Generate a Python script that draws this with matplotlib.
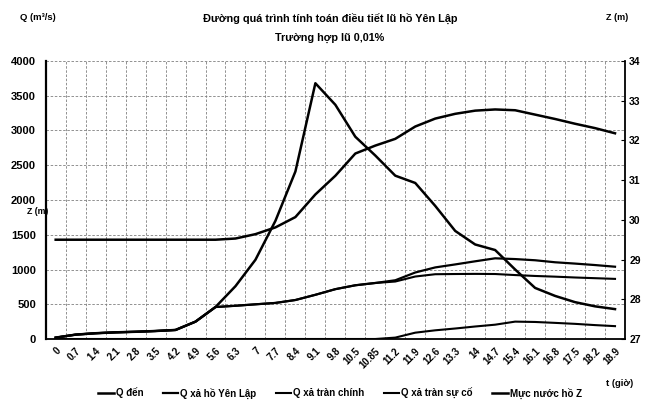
import numpy as np
import matplotlib
matplotlib.use("Agg")
import matplotlib.pyplot as plt

plt.rcParams['font.family'] = ['Liberation Sans', 'DejaVu Sans']
plt.rcParams['font.weight'] = 'bold'

# thoi gian (gio)
t_labels = ["0", "0.7", "1.4", "2.1", "2.8", "3.5", "4.2", "4.9", "5.6", "6.3",
            "7", "7.7", "8.4", "9.1", "9.8", "10.5", "10.85", "11.2", "11.9",
            "12.6", "13.3", "14", "14.7", "15.4", "16.1", "16.8", "17.5",
            "18.2", "18.9"]

# luu luong (m3/s)
q_den = [20, 63, 83, 96, 104, 115, 130, 250, 460, 760, 1140, 1700, 2410,
         3680, 3370, 2910, 2640, 2350, 2245, 1915, 1555, 1360, 1280, 1000,
         735, 620, 530, 470, 430]
q_xa_ho = [20, 63, 83, 96, 104, 115, 130, 250, 460, 478, 499, 519, 561,
           636, 717, 773, 806, 845, 957, 1030, 1073, 1118, 1161, 1150,
           1133, 1104, 1085, 1064, 1040]
q_tran_chinh = [20, 63, 83, 96, 104, 115, 130, 250, 460, 478, 499, 519, 561,
                636, 717, 773, 806, 827, 899, 932, 935, 937, 935, 920,
                907, 897, 885, 875, 865]
q_tran_su_co = [0, 0, 0, 0, 0, 0, 0, 0, 0, 0, 0, 0, 0, 0, 0, 0, 0,
                20, 91, 125, 151, 180, 206, 250, 245, 232, 218, 200, 185]

# muc nuoc ho (m)
z_ho = [29.5, 29.5, 29.5, 29.5, 29.5, 29.5, 29.5, 29.5, 29.5, 29.53, 29.64,
        29.81, 30.07, 30.64, 31.11, 31.67, 31.87, 32.04, 32.35, 32.55,
        32.67, 32.75, 32.78, 32.76, 32.65, 32.54, 32.42, 32.31, 32.18]

W, H = 654, 403
fig = plt.figure(figsize=(W / 100, H / 100), dpi=100)
fig.patch.set_facecolor('white')
ax = fig.add_axes([45.7 / W, 1 - 339 / H, (625 - 45.7) / W, (339 - 61) / H])

x = np.arange(len(t_labels))
grid_kw = dict(color='0.5', linewidth=0.6, dashes=(3, 2))

l1, = ax.plot(x, q_den, color='black', lw=1.8)
l2, = ax.plot(x, q_xa_ho, color='black', lw=1.6)
l3, = ax.plot(x, q_tran_chinh, color='black', lw=1.5)
l4, = ax.plot(x, q_tran_su_co, color='black', lw=1.5)

ax.set_xlim(-0.5, len(t_labels) - 0.5)
ax.set_ylim(0, 4000)
ax.set_yticks(np.arange(0, 4001, 500))
ax.set_xticks(x)
ax.set_xticklabels(t_labels, rotation=45, ha='right', rotation_mode='anchor',
                   fontsize=7, fontweight='bold')
ax.set_xticks(np.arange(-0.5, len(t_labels), 1), minor=True)
ax.grid(which='minor', axis='x', **grid_kw)
ax.grid(which='major', axis='y', **grid_kw)
ax.tick_params(axis='both', which='both', length=0)
ax.tick_params(axis='y', labelsize=8, pad=7)
ax.tick_params(axis='x', pad=5)
for lab in ax.get_yticklabels():
    lab.set_fontweight('bold')
ax.spines['top'].set_visible(False)
ax.spines['left'].set_linewidth(1.6)
ax.spines['bottom'].set_linewidth(1.3)
ax.spines['right'].set_visible(False)
ax.set_axisbelow(True)

ax2 = ax.twinx()
l5, = ax2.plot(x, z_ho, color='black', lw=1.8)
ax2.set_ylim(27, 34)
ax2.set_yticks(np.arange(27, 35, 1))
ax2.tick_params(axis='y', direction='in', length=3, labelsize=7.5, pad=3)
for lab in ax2.get_yticklabels():
    lab.set_fontweight('bold')
ax2.spines['top'].set_visible(False)
ax2.spines['left'].set_visible(False)
ax2.spines['bottom'].set_visible(False)
ax2.spines['right'].set_linewidth(1.3)

fig.text(330 / W, 1 - 18 / H, "Đường quá trình tính toán điều tiết lũ hồ Yên Lập",
         ha='center', va='center', fontsize=7.8, fontweight='bold')
fig.text(330 / W, 1 - 38 / H, "Trường hợp lũ 0,01%",
         ha='center', va='center', fontsize=7.8, fontweight='bold')
fig.text(38 / W, 1 - 18 / H, "Q (m³/s)", ha='center', va='center',
         fontsize=6.8, fontweight='bold')
fig.text(617 / W, 1 - 18 / H, "Z (m)", ha='center', va='center',
         fontsize=6.5, fontweight='bold')
fig.text(38 / W, 1 - 212 / H, "Z (m)", ha='center', va='center',
         fontsize=6.3, fontweight='bold')
fig.text(620 / W, 1 - 384 / H, "t (giờ)", ha='center', va='center',
         fontsize=6.8, fontweight='bold')

fig.legend([l1, l2, l3, l4, l5],
           ["Q đến", "Q xả hồ Yên Lập", "Q xả tràn chính", "Q xả tràn sự cố",
            "Mực nước hồ Z"],
           loc='center', bbox_to_anchor=(340 / W, 1 - 393 / H), ncol=5,
           frameon=False, fontsize=7, handlelength=1.6, handletextpad=0.2,
           columnspacing=2.0, borderpad=0)

fig.savefig("out.png", dpi=100, facecolor='white')
